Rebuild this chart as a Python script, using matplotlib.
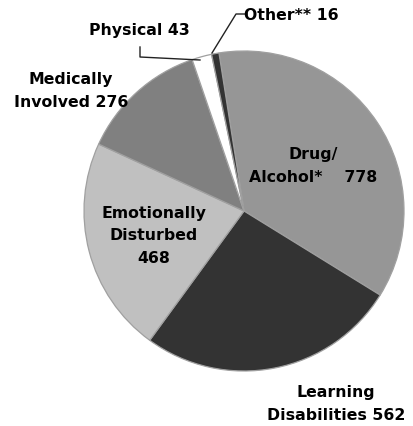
import matplotlib.pyplot as plt

# data
categories = ['Drug/\nAlcohol*', 'Learning\nDisabilities', 'Emotionally\nDisturbed',
              'Medically\nInvolved', 'Physical', 'Other**']
values = [778, 562, 468, 276, 43, 16]
colors = ['#969696', '#333333', '#c0c0c0', '#808080', '#ffffff', '#333333']
joiners = ['    ', ' ', '\n', ' ', ' ', ' ']

W, H = 414, 427
fig = plt.figure(figsize=(W / 100, H / 100), dpi=100)
ax = fig.add_axes([0, 0, 1, 1])

cx, cy, r = 244, H - 212, 160
ax.pie(values, colors=colors, startangle=99, counterclock=False,
       center=(cx, cy), radius=r,
       wedgeprops=dict(edgecolor='#a0a0a0', linewidth=0.9))

ax.set_xlim(0, W)
ax.set_ylim(0, H)
ax.set_aspect('equal')
ax.axis('off')

# label positions in image pixels (x, y from top)
label_pos = [(313, 166), (336, 404), (154, 236), (71, 91), (139, 30), (291, 15)]
for name, v, j, (x, y) in zip(categories, values, joiners, label_pos):
    ax.text(x, H - y, f'{name}{j}{v}', ha='center', va='center', fontsize=11.3,
            fontweight='bold', linespacing=1.6, color='#000000')

# leader lines
ax.plot([140, 140, 200], [H - 48, H - 58, H - 61], color='#222222', lw=1)
ax.plot([247, 236, 212], [H - 15, H - 15, H - 54], color='#222222', lw=1)

fig.savefig('out.png', dpi=100)
